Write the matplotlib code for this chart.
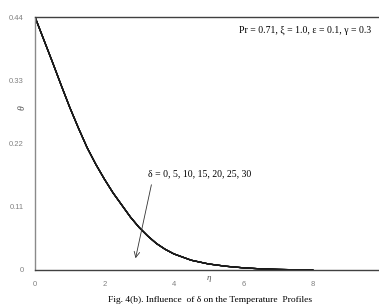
import matplotlib
matplotlib.use("Agg")
import matplotlib.pyplot as plt

# Data (all delta curves coincide)
deltas = [0, 5, 10, 15, 20, 25, 30]
eta = [0, 0.25, 0.5, 0.75, 1.0, 1.25, 1.5, 1.75, 2.0, 2.25, 2.5, 2.75, 3.0, 3.25,
       3.5, 3.75, 4.0, 4.5, 5.0, 5.5, 6.0, 6.5, 7.0, 7.5, 8.0]
theta = [0.44, 0.401, 0.362, 0.322, 0.283, 0.247, 0.213, 0.184, 0.158, 0.134,
         0.113, 0.092, 0.074, 0.059, 0.046, 0.036, 0.028, 0.017,
         0.0105, 0.0065, 0.0038, 0.002, 0.001, 0.0004, 0.0]
xticks = [0, 2, 4, 6, 8]
yticks = [0, 0.11, 0.22, 0.33, 0.44]
ytick_labels = ["0", "0.11", "0.22", "0.33", "0.44"]

fig = plt.figure(figsize=(3.79, 3.07), dpi=100)
ax = fig.add_axes([35/379, 37/307, 1 - 35/379, 253/307])

for d in deltas:
    ax.plot(eta, theta, color="#1a1a1a", lw=0.9)

ax.set_xlim(0, 9.91)
ax.set_ylim(0, 0.44)
ax.set_xticks(xticks)
ax.set_xticklabels([str(t) for t in xticks])
ax.set_yticks(yticks)
ax.set_yticklabels(ytick_labels)
ax.tick_params(length=0, labelsize=5.5, labelcolor="#808080", pad=8,
               labelfontfamily="Liberation Sans")

ax.spines["right"].set_visible(False)
ax.spines["left"].set_color("#8a8a8a")
ax.spines["top"].set_color("#404040")
ax.spines["bottom"].set_color("#404040")
for s in ax.spines.values():
    s.set_linewidth(1.0)

serif = "Liberation Serif"
ax.text(9.68, 0.417, "Pr = 0.71, ξ = 1.0, ε = 0.1, γ = 0.3", ha="right", va="center",
        fontsize=7, family=[serif, "DejaVu Serif"])
ax.text(3.26, 0.167, "δ = 0, 5, 10, 15, 20, 25, 30", ha="left", va="center",
        fontsize=7, family=[serif, "DejaVu Serif"])
ax.annotate("", xy=(2.88, 0.0157), xytext=(3.37, 0.153),
            arrowprops=dict(arrowstyle="->", lw=0.6, color="#333333"))

ax.text(5.0, -0.014, "η", ha="center", va="center", fontsize=6.5, style="italic",
        color="#505050", family=[serif, "DejaVu Serif"])
fig.text(22/379, 1 - 108/307, "θ", ha="center", va="center", fontsize=7, style="italic",
         color="#505050", family=[serif, "DejaVu Serif"], rotation=90)

fig.text(0.553, 1 - 300/307, "Fig. 4(b). Influence  of δ on the Temperature  Profiles",
         ha="center", va="center", fontsize=6.8, family=[serif, "DejaVu Serif"])

fig.savefig("out.png", dpi=100)
